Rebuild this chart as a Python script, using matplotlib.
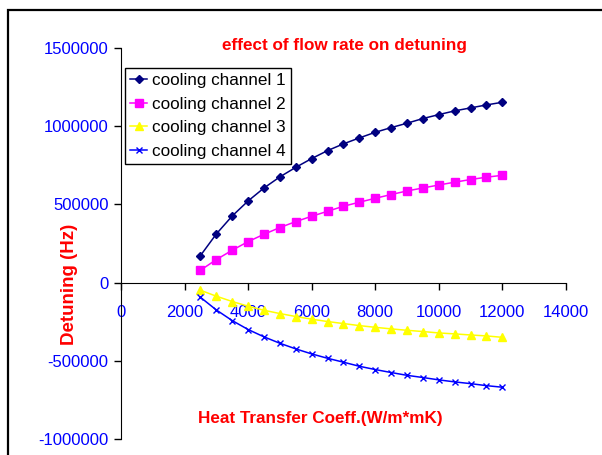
import matplotlib.pyplot as plt
import matplotlib.patches as patches

plt.rcParams['font.family'] = ['Liberation Sans', 'DejaVu Sans']

# heat transfer coefficient (W/m*mK)
htc = [2500, 3000, 3500, 4000, 4500, 5000, 5500, 6000, 6500, 7000,
       7500, 8000, 8500, 9000, 9500, 10000, 10500, 11000, 11500, 12000]

# detuning (Hz) per cooling channel
ch1 = [172600, 311000, 426000, 522000, 605000, 676000, 737000, 793000, 844000, 887000,
       925000, 961000, 991000, 1019000, 1049000, 1074000, 1098000, 1117000, 1136000, 1153000]
ch2 = [79000, 147000, 207000, 262000, 309000, 352000, 390000, 424000, 456000, 488000,
       514000, 539000, 563000, 586000, 605000, 624000, 642000, 659000, 674000, 686000]
ch3 = [-49000, -87000, -121000, -151000, -177000, -198000, -217000, -234000, -249000, -262000,
       -275000, -286000, -296000, -305000, -313000, -322000, -328000, -335000, -341000, -350000]
ch4 = [-94000, -175000, -243000, -300000, -347000, -388000, -424000, -456000, -484000, -509000,
       -535000, -556000, -575000, -593000, -607000, -622000, -635000, -646000, -659000, -669000]

xticks = [0, 2000, 4000, 6000, 8000, 10000, 12000, 14000]
yticks = [-1000000, -500000, 0, 500000, 1000000, 1500000]

fig = plt.figure(figsize=(6.02, 4.55), dpi=100)
ax = fig.add_axes([0.201, 0.0352, 0.739, 0.8593])

# outer chart border (runs off the right and bottom)
fig.patches.append(patches.Rectangle((0.0125, -0.05), 1.1, 1.029, transform=fig.transFigure,
                                     fill=False, edgecolor='black', linewidth=1.6))

ax.plot(htc, ch1, color='#000080', marker='D', markersize=3.8, linewidth=1.1, label='cooling channel 1')
ax.plot(htc, ch2, color='#FF00FF', marker='s', markersize=5.5, linewidth=1.1, label='cooling channel 2')
ax.plot(htc, ch3, color='#FFFF00', marker='^', markersize=6, linewidth=1.1, label='cooling channel 3')
ax.plot(htc, ch4, color='#0000FF', marker='x', markersize=4, markeredgewidth=1, linewidth=1.1, label='cooling channel 4')

ax.set_xlim(0, 14000)
ax.set_ylim(-1000000, 1500000)
ax.set_xticks(xticks)
ax.set_yticks(yticks)
ax.set_xticklabels([str(v) for v in xticks])
ax.set_yticklabels([str(v) for v in yticks])

ax.spines['left'].set_position(('data', 0))
ax.spines['bottom'].set_position(('data', 0))
ax.spines['top'].set_visible(False)
ax.spines['right'].set_visible(False)
ax.tick_params(axis='both', colors='black', labelcolor='#0000FF', labelsize=12, length=5, width=1)
ax.tick_params(axis='x', direction='out', pad=11)
ax.tick_params(axis='y', direction='out', pad=4)

fig.text(0.572, 0.901, 'effect of flow rate on detuning', color='red', fontsize=12.3,
         fontweight='bold', ha='center', va='center')
fig.text(0.532, 0.081, 'Heat Transfer Coeff.(W/m*mK)', color='red', fontsize=12.3,
         fontweight='bold', ha='center', va='center')
fig.text(0.116, 0.374, 'Detuning (Hz)', color='red', fontsize=13.5,
         fontweight='bold', ha='center', va='center', rotation=90)

leg = ax.legend(loc='upper left', bbox_to_anchor=(0.009, 0.949), borderaxespad=0,
                fontsize=12.3, fancybox=False, edgecolor='black', framealpha=1,
                handlelength=1.0, handletextpad=0.3, labelspacing=0.5, borderpad=0.3)
leg.get_frame().set_linewidth(1)

fig.savefig('out.png', dpi=100)
